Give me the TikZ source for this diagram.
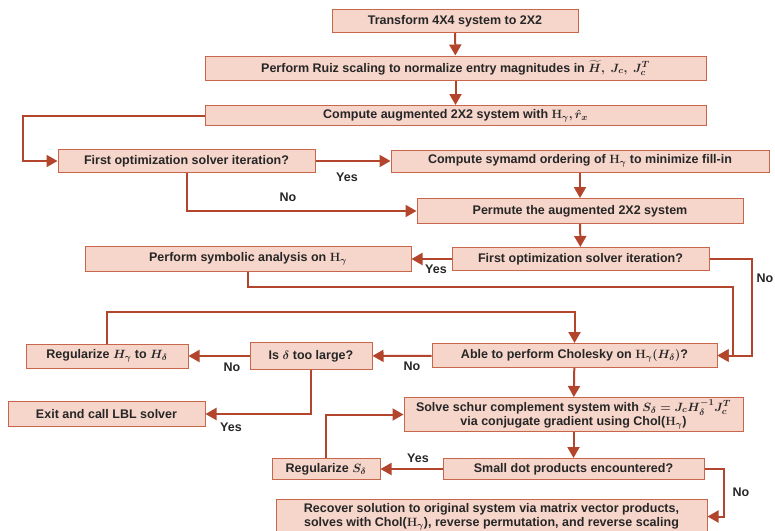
\documentclass[tikz,border=0pt]{standalone}
\usepackage{amsmath}
\usepackage[no-math]{fontspec}
\setmainfont{Liberation Sans}
\usetikzlibrary{arrows.meta}

\definecolor{boxfill}{HTML}{F6D5CA}
\definecolor{boxline}{HTML}{C8664B}
\definecolor{flowline}{HTML}{B2452B}
\definecolor{ink}{HTML}{262626}

\tikzset{
	box/.style={draw=boxline, fill=boxfill, line width=1pt, inner sep=1pt, align=center,
		text=ink, font=\fontsize{12.5}{14.5}\selectfont\bfseries\boldmath},
	flow/.style={draw=flowline, line width=2pt, -{Triangle[length=11pt,width=12pt]}},
	lbl/.style={inner sep=0pt, text=ink, font=\fontsize{12.5}{14}\selectfont\bfseries},
}

\begin{document}
\begin{tikzpicture}[x=1pt,y=-1pt]
	\useasboundingbox (0,0) rectangle (775,530);
	\draw
	node[box, minimum width=246pt, minimum height=23pt] at (455,21) (trans) {Transform 4X4 system to 2X2}
	node[box, minimum width=501pt, minimum height=24pt] at (455.5,68) (ruiz) {Perform Ruiz scaling to normalize entry magnitudes in $\widetilde{H},\ J_c,\ J_c^T$}
	node[box, minimum width=501pt, minimum height=20pt] at (455.5,115.5) (aug) {Compute augmented 2X2 system with $\mathrm{H}_\gamma, \hat{r}_x$}
	node[box, minimum width=257pt, minimum height=23pt] at (186.5,161) (firsta) {First optimization solver iteration?}
	node[box, minimum width=378pt, minimum height=22pt] at (580,161) (symamd) {Compute symamd ordering of $\mathrm{H}_\gamma$ to minimize fill-in}
	node[box, minimum width=326pt, minimum height=25pt] at (580,211) (perm) {Permute the augmented 2X2 system}
	node[box, minimum width=257pt, minimum height=23pt] at (580.5,259) (firstb) {First optimization solver iteration?}
	node[box, minimum width=326pt, minimum height=25pt] at (248,259) (symb) {Perform symbolic analysis on $\mathrm{H}_\gamma$}
	node[box, minimum width=285pt, minimum height=24pt] at (574.5,355.5) (chol) {Able to perform Cholesky on $\mathrm{H}_\gamma(H_\delta)$?}
	node[box, minimum width=122pt, minimum height=27pt] at (311,356) (large) {Is $\delta$ too large?}
	node[box, minimum width=162pt, minimum height=24pt] at (107,356) (regh) {Regularize $H_\gamma$ to $H_\delta$}
	node[box, minimum width=197pt, minimum height=25pt] at (106.5,414) (exit) {Exit and call LBL solver}
	node[box, minimum width=339pt, minimum height=34pt] at (573.5,414.5) (schur) {Solve schur complement system with $S_\delta = J_c H_\delta^{-1} J_c^T$\\via conjugate gradient using Chol($\mathrm{H}_\gamma$)}
	node[box, minimum width=261pt, minimum height=21pt] at (573.5,469) (small) {Small dot products encountered?}
	node[box, minimum width=108pt, minimum height=21pt] at (326,469) (regs) {Regularize $S_\delta$}
	node[box, minimum width=431pt, minimum height=34pt] at (491.5,516.5) (recov) {Recover solution to original system via matrix vector products,\\solves with Chol($\mathrm{H}_\gamma$), reverse permutation, and reverse scaling};

	% connectors
	\coordinate (k1) at (733,287);
	\draw[flow] (trans) -- (ruiz);
	\draw[flow] (ruiz) -- (aug);
	\draw[flow] (aug.west) -- ++(-182,0) |- (firsta.west);
	\draw[flow] (firsta) -- (symamd);
	\draw[flow] (firsta.south) |- (perm.west);
	\draw[flow] (symamd) -- (perm);
	\draw[flow] (perm) -- (firstb);
	\draw[flow] (firstb) -- (symb);
	\draw[flow] (firstb.east) -- ++(42,0) |- (chol.east);
	\draw[flow] (symb.south) |- (k1) |- (chol.east);
	\draw[flow] (chol) -- (large);
	\draw[flow] (large) -- (regh);
	\draw[flow] (regh.north) -- ++(0,-32) -| (chol.north);
	\draw[flow] (large.south) |- (exit.east);
	\draw[flow] (chol) -- (schur);
	\draw[flow] (schur) -- (small);
	\draw[flow] (small) -- (regs);
	\draw[flow] (regs.north) |- (schur.west);
	\draw[flow] (small.east) -- ++(19,0) |- (recov.east);

	% branch labels
	\draw
	node[lbl] at (347,177) {Yes}
	node[lbl] at (288,197) {No}
	node[lbl] at (436,269) {Yes}
	node[lbl] at (765,278) {No}
	node[lbl] at (412,366) {No}
	node[lbl] at (232,367) {No}
	node[lbl] at (231,427) {Yes}
	node[lbl] at (418,458) {Yes}
	node[lbl] at (741,492) {No};
\end{tikzpicture}
\end{document}
